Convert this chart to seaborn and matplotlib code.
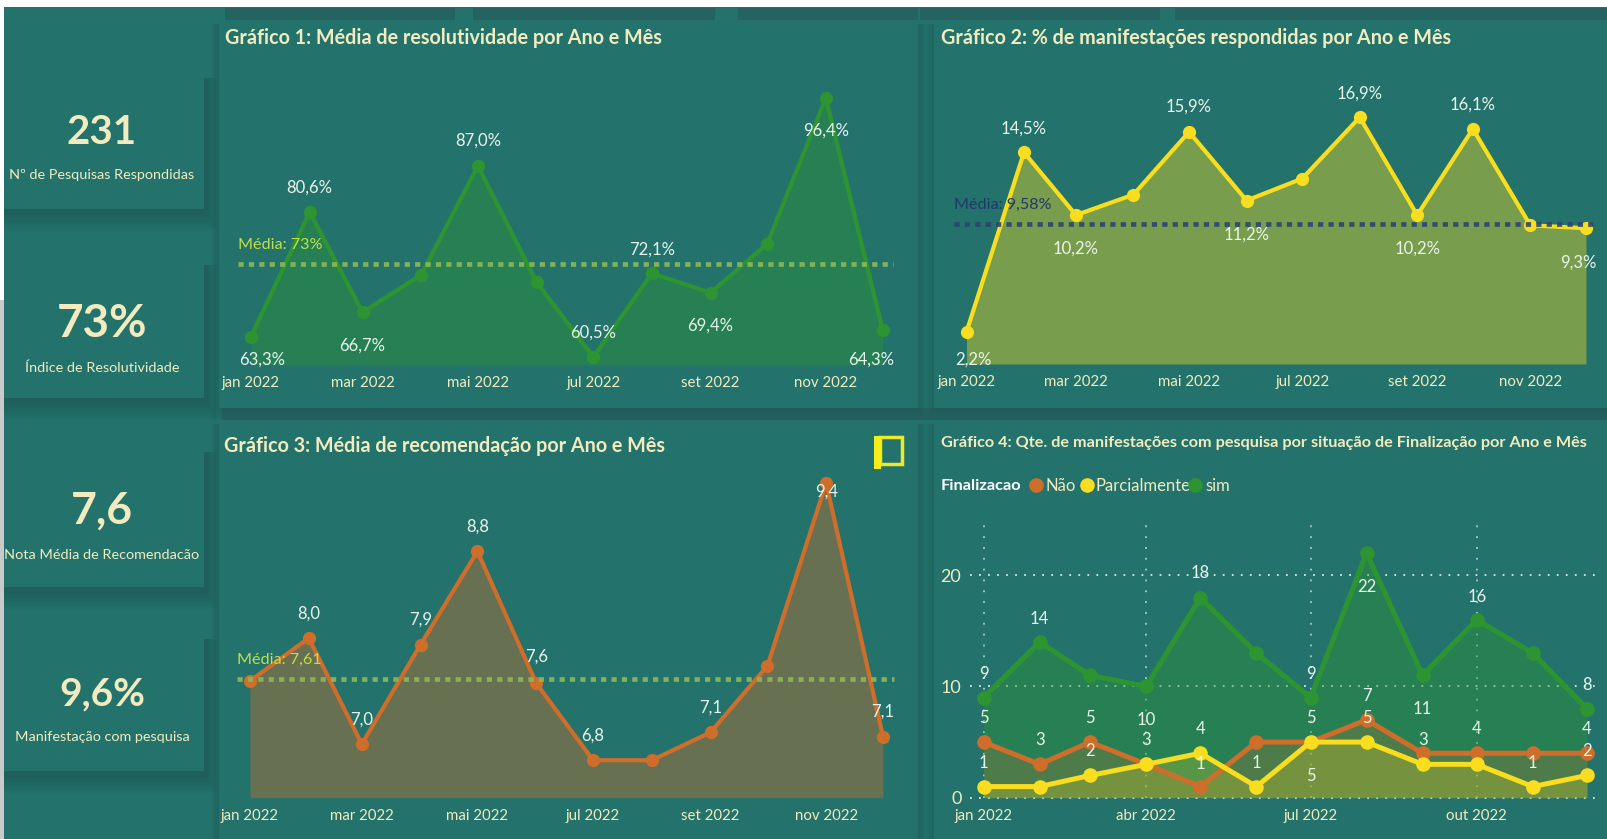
import matplotlib
matplotlib.use("Agg")
import matplotlib.pyplot as plt
import pandas as pd
import seaborn as sns
from matplotlib.patches import Rectangle

sns.set_theme(style="white")
plt.rcParams['font.family'] = ['Lato', 'DejaVu Sans']

# ---------- data ----------
months = pd.date_range("2022-01-01", periods=12, freq="MS")
resolutividade = [63.3, 80.6, 66.7, 71.9, 87.0, 70.9, 60.5, 72.1, 69.4, 76.2, 96.4, 64.3]
respondidas = [2.2, 14.5, 10.2, 11.6, 15.9, 11.2, 12.7, 16.9, 10.2, 16.1, 9.5, 9.3]
recomendacao = [7.59, 7.99, 7.0, 7.93, 8.8, 7.57, 6.85, 6.85, 7.11, 7.73, 9.44, 7.07]
nao = [5, 3, 5, 3, 1, 5, 5, 7, 4, 4, 4, 4]
parcialmente = [1, 1, 2, 3, 4, 1, 5, 5, 3, 3, 1, 2]
sim = [9, 14, 11, 10, 18, 13, 9, 22, 11, 16, 13, 8]

kpi_values = ["231", "73%", "7,6", "9,6%"]
kpi_labels = ["Nº de Pesquisas Respondidas", "Índice de Resolutividade",
              "Nota Média de Recomendacão", "Manifestação com pesquisa"]
titles = ["Gráfico 1: Média de resolutividade por Ano e Mês",
          "Gráfico 2: % de manifestações respondidas por Ano e Mês",
          "Gráfico 3: Média de recomendação por Ano e Mês",
          "Gráfico 4: Qte. de manifestações com pesquisa por situação de Finalização por Ano e Mês"]
tick_two = ["jan 2022", "mar 2022", "mai 2022", "jul 2022", "set 2022", "nov 2022"]
tick_three = ["jan 2022", "abr 2022", "jul 2022", "out 2022"]

# ---------- style ----------
W, H = 1608, 839
BG = "#23736C"
SHADOW = "#1F4F50"
CREAM = "#F1EBBF"
LABEL = "#E9F4EC"
GREEN, YELLOW, ORANGE = "#2E9432", "#F8DE1E", "#CF6D2A"

fig = plt.figure(figsize=(W / 100, H / 100), dpi=100, facecolor="white")
bg = fig.add_axes([0, 0, 1, 1], zorder=0)
bg.set_xlim(0, W)
bg.set_ylim(H, 0)
bg.axis("off")
bg.add_patch(Rectangle((4, 7), W - 4, H - 7, color=BG, lw=0))
bg.add_patch(Rectangle((0, 300), 4, H - 300, color="#C9CBCB", lw=0))


def shadow(x0, y0, x1, y1, spread=16, alpha=0.07, left=True):
    for s in range(spread, 0, -2):
        lx = x0 - s * .6 if left else x0
        bg.add_patch(Rectangle((lx, y0 + 4), x1 + s * .6 - lx, y1 - y0 + s - 4,
                               color=SHADOW, alpha=alpha, lw=0, zorder=1))
    bg.add_patch(Rectangle((x0, y0), x1 - x0, y1 - y0, color=BG, lw=0, zorder=2))


for a, b in [(225, 455), (473, 715), (738, 918), (920, 1160), (1175, W)]:
    bg.add_patch(Rectangle((a, 8), b - a, 12, color="#256360", lw=0, zorder=3))
bg.add_patch(Rectangle((222, 408), W - 222, 12, color="#256360", lw=0, zorder=1))
for px0, py0, px1, py1 in [(219, 20, 918, 408), (934, 20, W, 408), (219, 420, 918, H), (934, 420, W, H)]:
    shadow(px0, py0, px1, py1, spread=14, alpha=.05)
for py0, py1 in [(74, 209), (261, 398), (448, 587), (635, 771)]:
    shadow(4, py0, 204, py1, spread=22, alpha=0.06, left=False)

# KPI cards
kpi_y = [132, 324, 511, 694]
sub_y = [175, 368, 555, 737]
kpi_size = [29, 33, 32, 28]
for v, l, y, sy, s in zip(kpi_values, kpi_labels, kpi_y, sub_y, kpi_size):
    bg.text(102, y, v, color=CREAM, fontsize=s, fontweight="bold", ha="center", va="center", zorder=5)
    bg.text(102, sy, l, color=CREAM, fontsize=10.4, ha="center", va="center", zorder=5)

# titles
bg.text(225, 38, titles[0], color=CREAM, fontsize=14.2, fontweight="bold", va="center", zorder=5)
bg.text(941, 38, titles[1], color=CREAM, fontsize=14.2, fontweight="bold", va="center", zorder=5)
bg.text(224, 446, titles[2], color=CREAM, fontsize=14.2, fontweight="bold", va="center", zorder=5)
bg.text(941, 443, titles[3], color=CREAM, fontsize=11.7, fontweight="bold", va="center", zorder=5)

# focus-mode icon
bg.add_patch(Rectangle((880, 437), 22, 27, fill=False, ec="#EDE82A", lw=2.5, zorder=5))
bg.add_patch(Rectangle((874, 436), 7, 33, color="#F5EE1A", lw=0, zorder=6))


def make_axes(x0, x1, ytop, ybot, ylim):
    ax = fig.add_axes([x0 / W, 1 - ybot / H, (x1 - x0) / W, (ybot - ytop) / H], zorder=3)
    ax.patch.set_alpha(0)
    ax.set_xlim(months[0], months[-1])
    ax.set_ylim(*ylim)
    sns.despine(ax=ax, left=True, bottom=True)
    ax.set_yticks([])
    return ax


def series(ax, values, color, lw=3.0, ms=9.5, alpha=.4):
    ax.fill_between(months, values, ax.get_ylim()[0], color=color, alpha=alpha, lw=0, zorder=2)
    sns.lineplot(x=months, y=values, ax=ax, color=color, lw=lw, marker="o", markersize=ms,
                 markeredgewidth=0, clip_on=False, zorder=4, errorbar=None)
    ax.set_xlabel("")
    ax.set_ylabel("")


def labels(ax, values, offsets, fmt, size=12):
    for m, v, off in zip(months, values, offsets):
        if off is None:
            continue
        dx, dy = off
        ax.annotate(fmt(v), (m, v), xytext=(dx * .72, (dy - 2) * .72), textcoords="offset points",
                    color=LABEL, fontsize=size, ha="center", va="center", zorder=6,
                    annotation_clip=False)


def xticks(ax, idx, names, pad=5, size=10.8):
    ax.set_xticks([months[i] for i in idx])
    ax.set_xticklabels(names, color=CREAM, fontsize=size)
    ax.tick_params(axis="x", length=0, pad=pad)


def mean_line(ax, val, text, color, textcolor, x0, x1, tx_dy=19):
    tr = ax.get_yaxis_transform()
    ax.plot([x0, x1], [val, val], transform=tr, color=color, lw=3.4, ls=(0, (1.1, 1.1)),
            clip_on=False, zorder=5, alpha=.9)
    ax.annotate(text, (x0, val), xycoords=tr, xytext=(0, tx_dy * .72), textcoords="offset points",
                color=textcolor, fontsize=11.6, va="center", ha="left", zorder=6)


pct = lambda v: f"{v:.1f}%".replace(".", ",")
one = lambda v: f"{v:.1f}".replace(".", ",")
whole = lambda v: f"{v:d}"

# chart 1
ax1 = make_axes(251, 882.6, 80, 365, (59.4, 98.9))
series(ax1, resolutividade, GREEN)
mean_line(ax1, 73.4, "Média: 73%", "#8DB858", "#BFE04A", -0.02, 1.017)
labels(ax1, resolutividade, [(11, -21), (0, 26), (0, -31), None, (0, 27), None, (0, 26), (0, 26),
                             (0, -31), None, (0, -31), (-11, -28)], pct)
xticks(ax1, [0, 2, 4, 6, 8, 10], tick_two, pad=8)

# chart 2
ax2 = make_axes(966.5, 1586, 90, 364, (0, 18.77))
series(ax2, respondidas, YELLOW)
mean_line(ax2, 9.58, "Média: 9,58%", "#2D4470", "#23366B", -0.02, 1.017)
labels(ax2, respondidas, [(7, -26), (0, 26), (0, -32), None, (0, 27), (0, -32), None, (0, 26),
                          (0, -32), (0, 26), None, (-8, -32)], pct)
xticks(ax2, [0, 2, 4, 6, 8, 10], tick_two, pad=8)

# chart 3
ax3 = make_axes(250, 883, 470, 797.7, (6.5, 9.56))
series(ax3, recomendacao, ORANGE)
mean_line(ax3, 7.61, "Média: 7,61", "#8DB858", "#BFE04A", -0.02, 1.017)
labels(ax3, recomendacao, [None, (0, 27), (0, 27), (0, 27), (0, 27), (0, 28), (0, 27), None,
                           (0, 27), None, (0, -7), (0, 27)], one)
xticks(ax3, [0, 2, 4, 6, 8, 10], tick_two, pad=8)

# chart 4
ax4 = make_axes(983.6, 1587, 523, 797.7, (0, 24.7))
for xx in [months[0], months[3], months[6], months[9]]:
    ax4.axvline(xx, color="#D9E8DF", lw=1.3, ls=(0, (1, 5)), zorder=1, clip_on=False, alpha=.75)
for yy in [0, 10, 20]:
    ax4.plot([-0.022, 1.018], [yy, yy], transform=ax4.get_yaxis_transform(), color="#D9E8DF",
             lw=1.3, ls=(0, (1, 4)), zorder=1, clip_on=False)
series(ax4, sim, GREEN, lw=3.6, ms=10.5)
series(ax4, nao, ORANGE, lw=3.6, ms=10.5, alpha=.23)
series(ax4, parcialmente, YELLOW, lw=3.6, ms=10.5, alpha=.24)
labels(ax4, sim, [(0, 26), (0, 25), None, (0, -32), (0, 27), None, (0, 26), (0, -32), (0, -32),
                  (0, 25), None, (0, 26)], whole)
labels(ax4, nao, [(0, 26), (0, 26), (0, 26), (0, 26), (0, 25), None, (0, 26), (0, 26), None,
                  (0, 26), None, (0, 26)], whole)
labels(ax4, parcialmente, [(0, 26), None, (0, 26), None, (0, 26), (0, 26), (0, -32), (0, 26), (0, 26),
                           None, (0, 26), (0, 26)], whole)
xticks(ax4, [0, 3, 6, 9], tick_three, pad=8)
ax4.set_yticks([0, 10, 20])
ax4.set_yticklabels(["0", "10", "20"], color=CREAM, fontsize=13)
ax4.tick_params(axis="y", length=0, pad=16)

# legend of chart 4
bg.text(941, 486, "Finalizacao", color="white", fontsize=11.8, fontweight="bold", va="center", zorder=5)
for mx, tx, name, col in [(1036, 1046, "Não", ORANGE), (1087, 1096, "Parcialmente", YELLOW), (1195.5, 1205, "sim", GREEN)]:
    bg.plot([mx], [485], "o", ms=10.5, color=col, mew=0, zorder=5)
    bg.text(tx, 486, name, color=CREAM, fontsize=12, va="center", zorder=5)

fig.savefig("out.png", dpi=100, facecolor="white")
